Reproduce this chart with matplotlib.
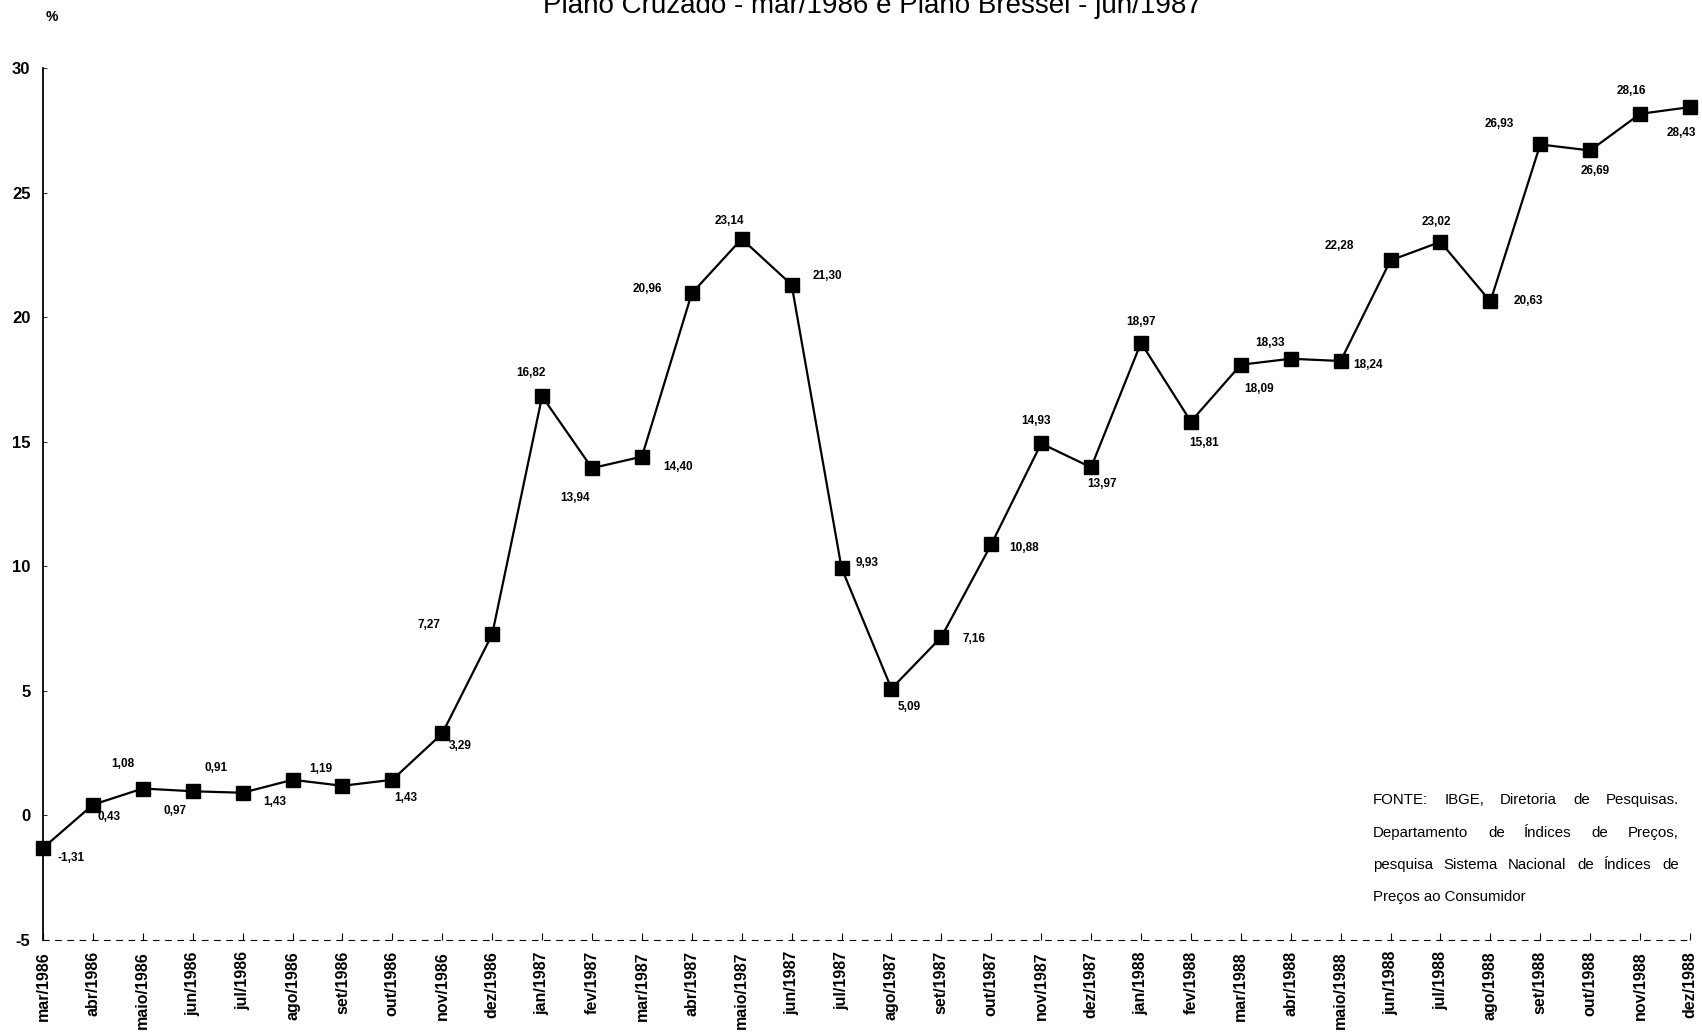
import matplotlib
matplotlib.use("Agg")
from matplotlib import pyplot as plt

plt.rcParams['font.family'] = ['Liberation Sans', 'DejaVu Sans']
plt.rcParams['axes.unicode_minus'] = False

# IPC acumulado em 12 meses (%), mar/1986 a dez/1988
months = ['mar', 'abr', 'maio', 'jun', 'jul', 'ago', 'set', 'out', 'nov', 'dez',
          'jan', 'fev', 'mar', 'abr', 'maio', 'jun', 'jul', 'ago', 'set', 'out', 'nov', 'dez',
          'jan', 'fev', 'mar', 'abr', 'maio', 'jun', 'jul', 'ago', 'set', 'out', 'nov', 'dez']
years = [1986] * 10 + [1987] * 12 + [1988] * 12
month_labels = [m + '/' + str(y) for m, y in zip(months, years)]

values = [-1.31, 0.43, 1.08, 0.97, 0.91, 1.43, 1.19, 1.43, 3.29, 7.27,
          16.82, 13.94, 14.40, 20.96, 23.14, 21.30, 9.93, 5.09, 7.16, 10.88, 14.93, 13.97,
          18.97, 15.81, 18.09, 18.33, 18.24, 22.28, 23.02, 20.63, 26.93, 26.69, 28.16, 28.43]

yticks = [-5, 0, 5, 10, 15, 20, 25, 30]

# label offsets in pixels (dx right, dy up)
label_offsets = [(28, -10), (16, -12), (-20, 25), (-18, -20), (-27, 25), (-18, -22), (-22, 17),
                 (13, -18), (18, -13), (-63, 9), (-11, 23), (-17, -30), (36, -10), (-45, 4),
                 (-12, 18), (36, 9), (26, 5), (18, -18), (33, -2), (33, -4), (-5, 22),
                 (11, -17), (0, 21), (13, -21), (18, -24), (-21, 16), (27, -4), (-51, 14),
                 (-4, 20), (38, 0), (-41, 20), (5, -21), (-9, 23), (-9, -26)]

fig = plt.figure(figsize=(17.02, 10.36), dpi=100)
ax = fig.add_axes([43 / 1702, 1 - 940 / 1036, (1690 - 43) / 1702, (940 - 68) / 1036])

x = list(range(len(values)))
ax.plot(x, values, color='black', linewidth=1.6, marker='s', markersize=10,
        markerfacecolor='black', markeredgecolor='black', clip_on=False, zorder=3)

for xi, v, (dx, dy) in zip(x, values, label_offsets):
    txt = ('%.2f' % v).replace('.', ',')
    ax.annotate(txt, (xi, v), xytext=(dx, dy), textcoords='offset pixels',
                ha='center', va='center', fontsize=8.5, fontweight='bold')

ax.set_xlim(0, len(values) - 1)
ax.set_ylim(-5, 30)
ax.set_yticks(yticks)
ax.set_yticklabels([str(t) for t in yticks], fontsize=12, fontweight='bold')
ax.set_xticks(x)
ax.set_xticklabels(month_labels, rotation=90, fontsize=11.5, fontweight='bold')
ax.tick_params(axis='x', direction='in', length=5, width=0.8, pad=8)
ax.tick_params(axis='y', direction='in', length=3, width=0.6, pad=9)

for s in ['top', 'right']:
    ax.spines[s].set_visible(False)
ax.spines['left'].set_linewidth(1.3)
ax.spines['bottom'].set_linewidth(0.8)
ax.spines['bottom'].set_linestyle((0, (5, 6)))

fig.text(52 / 1702, 1 - 17 / 1036, '%', fontsize=10, fontweight='bold', ha='center', va='center')

fig.text(872 / 1702, 1 - 13 / 1036, 'Plano Cruzado - mar/1986 e Plano Bressel - jun/1987',
         family=['Liberation Sans Narrow', 'Liberation Sans'], fontsize=20,
         ha='center', va='baseline')

# fonte, texto justificado
source_lines = ['FONTE: IBGE, Diretoria de Pesquisas.',
                'Departamento de Índices de Preços,',
                'pesquisa Sistema Nacional de Índices de',
                'Preços ao Consumidor']
src_size = 10.8
x0, x1 = 1373, 1679
line_y = [800, 833, 865, 897]
fig.canvas.draw()
renderer = fig.canvas.get_renderer()
for i, (line, yy) in enumerate(zip(source_lines, line_y)):
    words = line.split(' ')
    if i == len(source_lines) - 1:
        fig.text(x0 / 1702, 1 - yy / 1036, line, fontsize=src_size, ha='left', va='center')
        continue
    widths = []
    for w in words:
        t = fig.text(0, 0, w, fontsize=src_size)
        widths.append(t.get_window_extent(renderer).width)
        t.remove()
    gap = (x1 - x0 - sum(widths)) / (len(words) - 1)
    xx = x0
    for w, wd in zip(words, widths):
        fig.text(xx / 1702, 1 - yy / 1036, w, fontsize=src_size, ha='left', va='center')
        xx += wd + gap

fig.savefig('out.png', dpi=100)
